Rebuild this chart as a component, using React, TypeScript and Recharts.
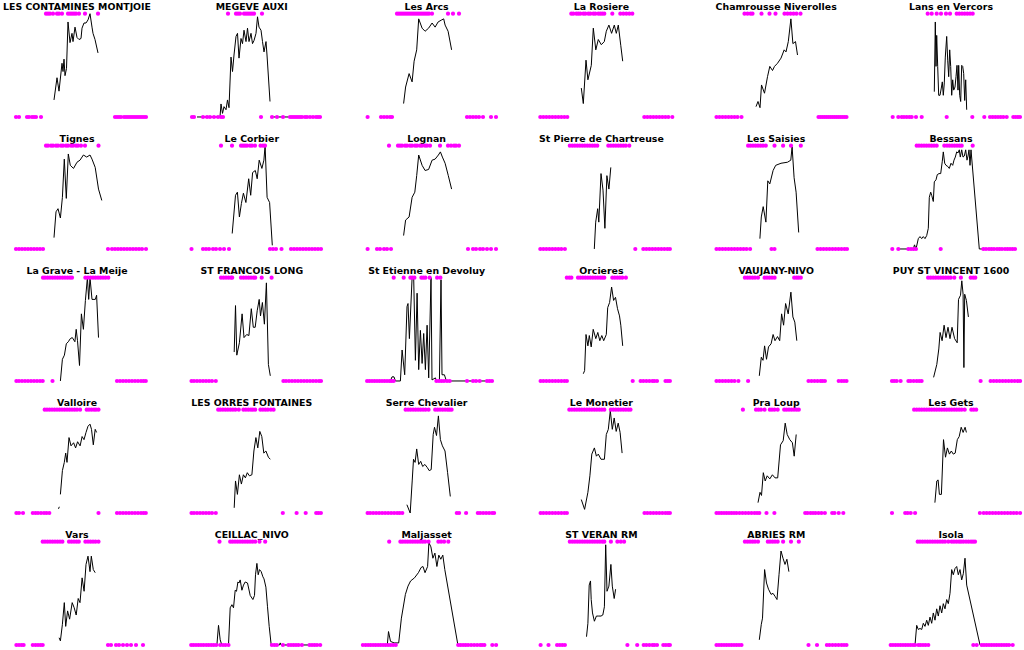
import React from 'react';
import { ComposedChart, Line, Scatter, XAxis, YAxis } from 'recharts';

type P = [number, number | null][];

// ---- Station names (row-major, 5 rows x 6 columns) ----
const titles = [
  'LES CONTAMINES MONTJOIE', 'MEGEVE AUXI', 'Les Arcs', 'La Rosiere', 'Chamrousse Niverolles', 'Lans en Vercors',
  'Tignes', 'Le Corbier', 'Lognan', 'St Pierre de Chartreuse', 'Les Saisies', 'Bessans',
  'La Grave - La Meije', 'ST FRANCOIS LONG', 'St Etienne en Devoluy', 'Orcieres', 'VAUJANY-NIVO', 'PUY ST VINCENT 1600',
  'Valloire', 'LES ORRES FONTAINES', 'Serre Chevalier', 'Le Monetier', 'Pra Loup', 'Les Gets',
  'Vars', 'CEILLAC_NIVO', 'Maljasset', 'ST VERAN RM', 'ABRIES RM', 'Isola',
];

// ---- per-station data: line = [time, normalised depth], top/bottom = times of snow / no-snow flags ----
const contaminesLine: P = [[38,.165],[41,.38],[43,.25],[46,.52],[47,.44],[48,.56],[49,.40],[50.5,.47],[52,.92],[54,.72],[56,.81],[57,.73],[59,.87],[61,.77],[63,.75],[65,.76],[66,.86],[68,.91],[70,.91],[72,.94],[74,1.0],[76,.87],[77,.81],[79,.75],[82,.62]];
const contaminesTop = [30,32,34,37,41,43,46,52,54,56,58,60,63,69,82];
const contaminesBottom = [0,3,11,13,16,18,20,25,99,101,103,105,108,110,112,114,116,118,120,122,124,126,128,130];

const megeveLine: P = [[6,0],[29,0],[30,.126],[31.5,.035],[33,.1],[35,.07],[36.5,.165],[38,.09],[40,.58],[41.5,.44],[43,.6],[45,.78],[46.5,.81],[48,.57],[50,.76],[51.5,.71],[53,.84],[55,.73],[56.5,.86],[58,.73],[60,.81],[61.5,.71],[63,.74],[65,.81],[66.5,.97],[68,.87],[70,.84],[71.5,.73],[73,.63],[75,.73],[76,.6],[79,.15],[80,null],[81,0],[129,0]];
const megeveTop = [37,45,47,49,53,55,57,59,61,63,71];
const megeveBottom = [1,3,12,16,19,23,27,30,32,70,81,86,92,99,101,103,105,107,109,111,114,116,119,122,125,127,129];

const arcsLine: P = [[37.6,.13],[39.6,.29],[43.1,.42],[46.1,.34],[48.1,.54],[50.7,.65],[52.7,.95],[56.1,.86],[59.1,.83],[62.6,.86],[66.1,.91],[69.1,.87],[72.1,.92],[75.7,.94],[77.7,.95],[79.1,.89],[82.1,.83],[85.6,.65]];
const arcsTop = [31,33,35,37,39,41,43,45,47,49,51,53,55,57,59,61,63,66,82,87,93];
const arcsBottom = [1.6,15,18,21,24,26,101,104,107,110,113,117,125,130];

const rosiereLine: P = [[41.3,.28],[43.3,.13],[46,.55],[47.9,.36],[51.3,.5],[53.3,.86],[55.8,.65],[58.3,.75],[61.3,.70],[64.3,.73],[66.3,.83],[68.9,.89],[71.6,.81],[74.3,.89],[76.3,.81],[78.3,.89],[80.8,.69],[82.7,.54]];
const rosiereTop = [31.3,33.3,36.3,38.3,40.3,43.3,45.3,48.3,50.3,53.3,55.3,58.3,60.3,62.3,64.3,72.3,80.3,83.3,86.3,89.3,92.3];
const rosiereBottom = [0.3,3.3,6.3,9.3,12.3,15.3,18.3,21.3,24.3,27.3,104.3,107.3,110.3,113.3,116.3,119.3,122.3,125.3,128.3,132.3];

const chamrousseLine: P = [[41,.1],[43,.15],[45,.09],[46.5,.31],[49.5,.23],[52.5,.39],[54.8,.49],[57.5,.45],[59.5,.49],[62.5,.52],[66,.57],[69.2,.65],[71,.63],[73.3,.73],[75.9,.95],[77.9,.71],[80.5,.73],[82.5,.6]];
const chamrousseTop = [29.5,32.5,35.5,37.5,46.5,54.5,60.5,69.5,72.5,75.5,78.5,81.5,85.5];
const chamrousseBottom = [1.5,4.5,7.5,10.5,13.5,16.5,19.5,22.5,26.5,103.5,105.5,107.5,109.5,111.5,113.5,115.5,117.5,119.5,121.5,123.5,125.5,127.5,129.5,131.5];

const lansLine: P = [[44.3,.245],[45.3,.92],[46,.49],[46.7,.79],[47.7,.49],[48.7,.21],[50,.21],[51.3,.28],[52.3,.34],[53.3,.21],[54.3,.33],[55.3,.58],[56.7,.78],[57.7,.55],[58.7,.39],[59.7,.65],[60.7,.49],[61.7,.21],[62.7,.36],[63.7,.26],[65,.29],[66,.39],[67,.5],[68,.26],[68.7,.5],[69.7,.21],[70.7,.15],[71.7,.5],[72.7,.49],[73.7,.42],[74.7,.16],[75.7,.36],[76.7,.07]];
const lansTop = [37.7,41.7,46.7,51,56,60,66.7,69.3,72,74.7,77.3,80,82.7];
const lansBottom = [2.7,8.3,11.7,14,16.7,19.3,21.7,26,31.7,56.7,82.3,94.3,100,102.7,105.3,108,110.7,113.3,116.7,123.3,125.7,128,130];

const tignesLine: P = [[38,.11],[40,.36],[42,.39],[44.4,.3],[46.4,.5],[48.3,.87],[50.3,.49],[52.3,.92],[54.3,.81],[57.5,.78],[61,.84],[64,.86],[67.4,.91],[70.7,.89],[74,.91],[76,.87],[79.2,.79],[82.5,.58],[85.8,.47]];
const tignesTop = [30,32,35,37,40,42,45,47,50,52,55,57,60,62,65,69,82.5];
const tignesBottom = [0,3,6,9,12,15,18,21,24,27,92,96,99,102,105,108,111,114,117,120,123,126,130];

const corbierLine: P = [[41.2,.15],[44.5,.52],[46.4,.55],[48.4,.31],[50.4,.44],[52.4,.54],[54.9,.45],[57.7,.68],[59.7,.52],[61.6,.74],[64.3,.76],[66.2,.68],[68.2,.86],[70.9,.78],[72.9,.86],[74.1,1.0],[76.1,.5],[78.6,.45],[81.3,.035]];
const corbierTop = [30,41,50,52,54,56,59,61,64,69.5,72,74];
const corbierBottom = [0.5,12,15,18,22,25,29,33,38,79,82,85,90.5,100,103,106,109,112,115,118,121,124,127,130];

const lognanLine: P = [[37.6,.13],[39.6,.28],[43.1,.31],[46.1,.5],[48.8,.55],[50.7,.71],[52.7,.91],[56.1,.81],[59.1,.76],[62.6,.77],[66.1,.86],[69.1,.87],[72.4,.91],[74.4,.94],[76.4,.89],[79.1,.83],[82.3,.71],[85.6,.58]];
const lognanTop = [23,32,34,36,39,41,44,46,49,51,54,56,59,61,64,74,82,85,88,90,93];
const lognanBottom = [1.6,11,14,18,21,25,102,107,110,114,117,121,125,130];

const chartreuseLine: P = [[54.3,0],[55.7,.26],[57.7,.39],[58.8,.26],[61,.73],[63,.57],[64.9,.2],[66.9,.71],[68.9,.58],[70.8,.79]];
const chartreuseTop = [29.8,32.3,34.8,37.3,39.8,42.3,44.8,47.3,49.8,52.3,54.8,57.3,68.3,70.8,73.3,75.8,78.3,80.8,83.3,85.8,89.3];
const chartreuseBottom = [0.3,3.3,6.3,9.3,12.3,15.3,18.3,21.3,24.9,95.3,103.3,106.3,109.3,112.3,115.3,118.3,121.3,124.3,127.3,129.9];

const saisiesLine: P = [[44.9,.1],[46.3,.31],[48.2,.41],[50.9,.26],[52.8,.66],[54.8,.63],[58.1,.76],[60.7,.81],[66,.83],[72.5,.84],[75.8,.86],[77.1,.99],[79.1,.69],[81.1,.55],[83.7,.16]];
const saisiesTop = [33.1,35.5,38,40.5,43,45.5,48,50.8,59.5,68.1,76,85.8];
const saisiesBottom = [1.5,4.5,7.5,10.5,13.5,16.5,19.5,22.5,25.5,28.5,31.5,35.1,56.5,59.5,102.5,105.5,108.5,111.5,114.5,117.5,120.5,123.5,126.5,129.5,132];

const bessansLine: P = [[8.3,0],[23.3,0],[24.5,.04],[26,0],[28.3,.1],[30,.12],[31.7,.1],[33.3,.12],[35,.1],[36.7,.13],[38.3,.2],[39.3,.5],[40.7,.55],[41.7,.52],[43.3,.46],[44.3,.65],[46,.67],[47.3,.72],[49,.73],[50.7,.73],[52.3,.85],[53.3,.94],[54.7,.83],[56,.81],[57.7,.8],[59.3,.78],[61,.83],[62.7,.81],[64,.86],[65.3,.89],[66.7,.94],[68,.93],[69.3,.96],[70.3,.89],[71.7,.96],[73,.89],[74.3,.9],[75.7,.96],[77,.86],[78,.9],[79,.96],[80,.81],[81,.96],[89.3,0],[125,0]];
const bessansTop = [26.7,29,31.5,34,36.5,39,41.5,44,46.7,54.3,57,59.5,62,64.5,67,69.5,71.7,82.7];
const bessansBottom = [2.3,8.3,18.3,21,23.5,26,50.7,93.3,96,99,101.5,104,107,109.5,112,115,117.5,120,122.5,125];

const graveLine: P = [[44.4,0],[46.4,.21],[48.4,.25],[50.3,.36],[52.3,.38],[54.3,.41],[56.3,.42],[58.9,.38],[60.2,.5],[61.5,.39],[63.5,.15],[65.4,.65],[67.4,.5],[69.4,.78],[71.4,1.0],[72.7,.79],[74,1.0],[76,.79],[79.3,.79],[80.6,.83],[82.5,.42]];
const graveTop = [27,29,31.5,34,36.5,39,41.5,44,46.5,49,51.5,54,56,69.4,72,74.5,77,79.5,82,84.5,87,89.5,92.3];
const graveBottom = [0.4,3,6,9,12,15,18,21,24,26.7,36.5,101,104,107,110,113,116,119,122,125,127.5,129.8];

const francoisLine: P = [[43.2,.28],[44.5,.73],[45.8,.25],[48.4,.37],[51.1,.65],[53,.42],[55.7,.45],[57.9,.44],[60.3,.7],[62.3,.52],[64.2,.52],[66.2,.68],[68.2,.79],[69.5,.63],[71.4,.76],[73.4,.55],[75.4,.95],[77.4,.16],[79.3,.05]];
const francoisTop = [30,32.5,35,37.5,40,41.2,50,52.5,55,57.5,60,62.5,64.2,70.7,80.6];
const francoisBottom = [0.5,3,6,9,12,15,18,21,24.8,92.4,95,98,101,104,107,110,113,116,119,122,125,128,130];

const devoluyLine: P = [[2.7,0],[24.4,0],[26,.04],[28,.04],[29.4,0],[34.4,0],[36.1,.3],[38.7,.06],[41,.72],[42,.75],[43.4,.41],[46.1,1.0],[47.7,1.0],[49.4,.2],[51.1,.85],[52.7,.11],[54.4,.49],[56.1,.17],[57.7,.46],[59.4,.11],[61.1,.54],[62.7,.03],[65,1.0],[66,.01],[69.4,.03],[70.5,0],[73.4,0],[75,.98],[76,.06],[78.4,.06],[80.4,0],[126,0]];
const devoluyTop = [27.7,37.7,44.4,46.4,48.4,55.4,57.4,59.4,63.7,71.1,74.4];
const devoluyBottom = [1.1,3.5,6,8.5,11,13.5,16,18.5,21,23.5,25.5,27.7,70.4,73,75.5,78,81,83.7,101,107,110,113.7,121,123.5,126];

const orcieresLine: P = [[43.3,.07],[44.6,.1],[46,.45],[47.9,.34],[49.3,.44],[51.2,.33],[53.2,.5],[55.8,.41],[57.8,.47],[59.8,.39],[61.8,.44],[63.7,.39],[66.3,.45],[67.7,.71],[69.6,.76],[71.6,.91],[73.6,.78],[75.5,.81],[77.5,.7],[79.5,.63],[80.8,.54],[82.7,.34]];
const orcieresTop = [26.8,29.3,31.4,38,40.3,42.8,45.3,47.8,50.3,52.8,55.3,57.8,60.3,62.3,64.3,72.3,74.8,77.3,79.8,82.3,85.9];
const orcieresBottom = [0.6,3.3,6.3,9.3,12.3,15.3,18.3,21.3,24.3,26.9,92.7,100.6,103.3,106.3,109.3,112.3,114.3,117,125.5,127.8,129.9];

const vaujanyLine: P = [[44.3,.05],[46.3,.23],[48,.2],[49.6,.34],[51.5,.21],[53.5,.33],[56.1,.36],[58.1,.45],[60,.39],[62.5,.43],[64.7,.39],[66.6,.65],[68.6,.54],[70.6,.75],[73.2,.65],[75.9,.86],[77.9,.62],[79.8,.57],[81.8,.39]];
const vaujanyTop = [29.9,32.5,35,37.5,40,43,49.6,52,54.5,57,59.6,79.2,81.5,83.5,85.8];
const vaujanyBottom = [1.5,4.5,7.5,10.5,13.5,16.5,19.5,23.4,33.1,93.5,96.5,99.5,102.5,105.5,107.5,109.9,123.7,126.5,129,131.5];

const puyLine: P = [[43.6,.035],[46.8,.16],[48.8,.31],[50.1,.47],[52.1,.39],[54.1,.54],[56,.42],[58,.52],[60,.41],[62,.52],[64.6,.41],[67.2,.37],[68.5,.79],[70.5,.83],[71.8,.97],[73.1,.84],[73.9,.13],[74.7,.84],[76.4,.78],[78.4,.62]];
const puyTop = [38.1,40.7,43.2,45.7,48.2,50.7,53.2,55.7,58.2,60.7,64.3,70.9,80.7,83.2,85.3];
const puyBottom = [2,4.2,6.7,10.6,18.4,20.7,23.7,26.7,29.2,31.6,90.6,100.6,103.7,106.7,109.7,112.7,115.7,118.7,121.7,124.7,127.7,130.1];

const valloireLine: P = [[42.5,.04],[43.3,.06],[43.8,null],[44.4,.18],[46.4,.41],[48.3,.49],[49.7,.58],[51,.49],[53,.73],[55,.65],[57.6,.68],[59.6,.63],[61.6,.69],[64.1,.65],[66.1,.74],[68,.71],[70,.78],[72,.84],[74,.86],[75.5,.81],[77.3,.66],[79.2,.81],[80.6,.78]];
const valloireTop = [28.7,31,33.5,36,38.5,41,43.5,46,48.5,51,53.5,56,58.5,61,64.1,70.7,73,75.5,78,80,82.5];
const valloireBottom = [0.4,3,7,16.8,19.5,22,25,28,30.5,33.3,82.5,101,104,107,110,113,116,119,122,125,127.5,129.8];

const orresLine: P = [[43.2,.05],[44.5,.31],[46.4,.18],[48.4,.37],[50.4,.28],[52.4,.37],[54.4,.34],[56.3,.39],[58.4,.36],[60.9,.37],[62.9,.6],[64.9,.73],[66.8,.63],[68.8,.79],[70.8,.74],[72.8,.58],[74.9,.6],[77.4,.54],[79.3,.52]];
const orresTop = [27.2,29.4,31.9,34.4,36.9,39.4,41.9,44.4,47.8,52.4,54.9,57.4,59.9,61.9,64.2,69.4,71.9,74.4,76.9,79.9,82.6];
const orresBottom = [0.5,3,6,9,12,15,18,21,24.8,91.8,105.6,114.7,125.2,127.4,129.9];

const serreLine: P = [[40.9,.08],[44.2,0],[46.2,.31],[47.5,.52],[49.1,.49],[50.7,.62],[52.7,.47],[54.7,.5],[56.7,.45],[58.9,.47],[61.3,.44],[63.2,.41],[65.2,.42],[67.2,.76],[68.5,.83],[70.5,.75],[72.4,.94],[74.4,.71],[76.4,.65],[79,.6],[81.6,.39],[84.3,.16]];
const serreTop = [39.6,42.1,44.6,47.1,49.6,52.1,54.6,57.1,59.6,62.6,69.2,71.6,74.1,76.6,79.1,81.6,83.6,85.6];
const serreBottom = [1.6,4.1,7.1,10.1,13.1,16.1,19.1,22.1,25.1,28.1,31.1,33.6,36.3,90.8,93.1,100.1,111.8,114.1,117.1,120.1,123.1,126.1,128.1];

const monetierLine: P = [[41.3,.13],[44.6,.035],[47.9,.2],[49.9,.36],[51.8,.57],[54.4,.63],[56.4,.55],[58.3,.57],[61,.52],[64.4,.52],[66.3,.76],[68.3,.81],[70.3,.99],[72.3,.81],[74.2,.92],[76.2,.79],[78.2,.87],[80.1,.78],[82.1,.58]];
const monetierTop = [29.3,31.8,34.3,36.8,39.3,41.8,44.3,46.8,49.3,51.8,54.3,56.8,59.3,61.8,64.3,70.9,73.3,75.8,78.3,80.8,83.3,85.8,88.3,90.5];
const monetierBottom = [0.6,3.3,6.3,9.3,12.3,15.3,18.3,21.3,24.3,26.9,104.5,107.3,110.3,113.3,116.3,119.3,122.3,125.3,127.8,129.9];

const praLoupLine: P = [[43,.1],[45,.2],[46.5,.17],[48.3,.39],[50.2,.31],[52.2,.36],[54.8,.33],[57.4,.37],[60,.34],[62.7,.34],[65.5,.66],[68.2,.7],[70.2,.87],[72.2,.76],[74.8,.71],[77.4,.68],[79.2,.55],[81.2,.76]];
const praLoupTop = [27.9,41,43.5,46,49.6,54.8,57,59.5,62.7,69.2,71.5,74,76.5,79,81.5,83.8];
const praLoupBottom = [1.5,4,6.5,9,11.5,14,16.5,19,21.5,24.5,27.5,30.5,33.5,36.5,39.5,42,44.3,51.5,59.4,90.2,92.5,95.5,98,100.5,103.5,106.5,109.9,117.2,119.5,123.7,128.3];

const getsLine: P = [[44.9,.1],[46.8,.31],[48.1,.32],[49.4,.18],[51.4,.18],[53.5,.71],[55.5,.54],[57.4,.63],[59.4,.57],[61.3,.6],[63.3,.57],[65.2,.58],[67.3,.71],[69.2,.74],[71.2,.83],[73.1,.78],[75.1,.83],[76.4,.78]];
const getsTop = [24.1,26.7,29.2,31.7,34.2,36.7,39.2,41.7,44.2,46.7,49.2,51.7,54.2,56.7,59.2,61.7,64.2,66.7,69.2,71.7,74.7,81.3,83.7,86.2];
const getsBottom = [2,15.2,17.7,20.7,25.1,89.9,93.7,96.7,99.7,102.7,105.7,108.7,111.7,114.7,117.7,120.7,123.7,126.7,130.1];

const varsLine: P = [[43.1,.07],[44.4,.04],[46.4,.2],[48.3,.41],[49.7,.18],[51.6,.33],[53.6,.25],[56.2,.41],[58.2,.36],[60.2,.29],[62.2,.45],[64,.41],[66.1,.65],[68.1,.52],[70,.78],[72,.86],[74,.71],[75.3,.86],[77.3,.73],[79.2,.7]];
const varsTop = [26.7,29,31.5,34,36.5,39,41.5,44,46.4,53,55.5,58,60.5,62.8,69.4,72,74.5,77,79.5,82.5];
const varsBottom = [0.4,3,5.5,7.6,16.8,19.5,22,24.5,26.7,92,95,100,103,107,111,115,120,127];

const ceillacLine: P = [[0.9,0],[25.9,0],[27.5,.19],[29.2,.05],[30.8,0],[37.5,0],[39.2,.36],[40.9,.39],[42.5,.36],[44.2,.53],[45.5,.52],[46.9,.61],[48,.6],[49.2,.63],[50.9,.53],[52.5,.58],[54.2,.61],[56.5,.6],[59.2,.48],[61.9,.44],[63.5,.48],[64.5,.68],[65.9,.79],[67.2,.68],[68.5,.73],[70.2,.71],[71.9,.66],[73,.64],[74.9,.56],[76.5,.37],[78.2,.18],[80.2,0],[88.5,0],[89.2,.02],[90,0],[129.2,0]];
const ceillacTop = [28.5,39.2,41.5,44,46.5,49,51.5,54,56.5,59,61.5,64.2,68.5,74.2];
const ceillacBottom = [0.2,2.5,5,7.5,10,12.5,15.2,17.7,20.2,22.7,25.2,29.2,32,34.5,37.5,80.9,83.4,85.9,91.9,97.5,100,102.5,105,107.5,110.9,118.5,121,123.5,126,129.2];

const maljassetLine: P = [[0.3,0],[21.3,0],[22.5,.13],[24.5,.035],[28.1,.02],[32.7,.02],[35.4,.26],[39.4,.49],[42,.57],[44.6,.62],[48.5,.65],[52.4,.7],[55.1,.75],[57,.76],[59,.7],[61.6,.76],[62.9,.99],[64.9,.95],[66.9,.84],[68.9,.89],[70.9,.76],[72.8,.87],[74.8,.83],[76.8,.87],[78.8,.73],[91.9,0],[118.4,0]];
const maljassetTop = [23.2,34.4,36.6,39.1,41.6,44.1,46.6,49.1,51.6,54.1,56.6,59.1,62.6,72.4,75.1,78.1,82.3];
const maljassetBottom = [-3.1,-0.4,2.1,4.6,7.1,9.6,12.1,14.6,17.1,19.6,22.1,24.6,27.1,29.8,92.2,94.6,97.1,99.6,102.1,105.1,108.1,111.1,114.1,116.1,118.4,126.3,130.1];

const veranLine: P = [[46.5,.08],[47.9,.21],[49.2,.58],[50.5,.62],[51.2,.44],[52.5,.31],[54.4,.23],[56.4,.28],[58.8,.28],[61,.28],[62.8,.29],[64.4,.37],[65.7,.97],[67,.52],[68.9,.57],[70.9,.78],[72.3,.57],[74.2,.45],[75.6,.54]];
const veranTop = [29.8,32.3,34.8,37.3,39.8,42.3,44.8,47.3,49.8,52.3,54.8,57.3,59.8,62.3,64.3,70.9,77.4,80.8,84.1];
const veranBottom = [0.6,8.5,17.1,19.8,22.3,24.9,87.4,97.2,103.7,106.3,109.3,112.3,114.3,117,123.3,125.8,128.3,129.9];

const abriesLine: P = [[44.3,.05],[46.3,.2],[47.5,.26],[49.6,.73],[51.5,.6],[53.5,.54],[56.1,.49],[58,.5],[60.1,.47],[62,.44],[64,.68],[66,.91],[68,.84],[70,.78],[71.9,.83],[73.9,.71]];
const abriesTop = [29.9,32.5,35,37.5,40,43,52.8,55,57.5,60,62.7,68.1,76,83.8];
const abriesBottom = [1.5,4,6.5,9,11.5,14,16.5,19,21.5,24,26.5,93.5,102,111.9,114.5,117.5,120.5,123.5,126.5,129,131.5];

const isolaLine: P = [[5,0],[25,0],[26.7,.19],[28.3,.15],[30,.16],[31.7,.15],[33.3,.21],[35,.18],[36.7,.24],[38.3,.19],[40,.27],[41.7,.21],[43.3,.31],[45,.24],[46.7,.35],[48.3,.28],[50,.38],[51.7,.31],[53.3,.4],[55,.35],[56.7,.44],[58.3,.4],[60,.5],[61.7,.73],[63.3,.68],[65,.74],[66.7,.76],[68.3,.68],[70,.73],[71.7,.63],[73.3,.69],[75,.84],[76.7,.58],[90,0],[122.7,0]];
const isolaTop = [27.7,30,32.5,35,37.5,40,42.5,45,47.5,50,52.5,55,58.3,61.7,64,66.5,69,71,73.3,76,78.5,81,83,85];
const isolaBottom = [0.7,3,5.5,8,10.5,13,15.5,18,20.5,23,25,28.3,30.5,33,35.5,38.3,83.3,86.7,91.7,94,96.5,99,101.5,104,106.5,109,111.5,114,116.5,119,122.7];

const lines: P[] = [
  contaminesLine, megeveLine, arcsLine, rosiereLine, chamrousseLine, lansLine,
  tignesLine, corbierLine, lognanLine, chartreuseLine, saisiesLine, bessansLine,
  graveLine, francoisLine, devoluyLine, orcieresLine, vaujanyLine, puyLine,
  valloireLine, orresLine, serreLine, monetierLine, praLoupLine, getsLine,
  varsLine, ceillacLine, maljassetLine, veranLine, abriesLine, isolaLine,
];
const tops: number[][] = [
  contaminesTop, megeveTop, arcsTop, rosiereTop, chamrousseTop, lansTop,
  tignesTop, corbierTop, lognanTop, chartreuseTop, saisiesTop, bessansTop,
  graveTop, francoisTop, devoluyTop, orcieresTop, vaujanyTop, puyTop,
  valloireTop, orresTop, serreTop, monetierTop, praLoupTop, getsTop,
  varsTop, ceillacTop, maljassetTop, veranTop, abriesTop, isolaTop,
];
const bottoms: number[][] = [
  contaminesBottom, megeveBottom, arcsBottom, rosiereBottom, chamrousseBottom, lansBottom,
  tignesBottom, corbierBottom, lognanBottom, chartreuseBottom, saisiesBottom, bessansBottom,
  graveBottom, francoisBottom, devoluyBottom, orcieresBottom, vaujanyBottom, puyBottom,
  valloireBottom, orresBottom, serreBottom, monetierBottom, praLoupBottom, getsBottom,
  varsBottom, ceillacBottom, maljassetBottom, veranBottom, abriesBottom, isolaBottom,
];

const COLS = 6;
const COL_PITCH = 174.8;
const FIRST_CENTER = 77;
const ROW_PITCH = 132;
const PW = 150;
const PH = 120;

const Dot = (props: any) => {
  const { cx, cy } = props;
  if (cx == null || cy == null) return null;
  return <circle cx={cx} cy={cy} r={2.1} fill="#ff00ff" />;
};

function Panel({ idx }: { idx: number }) {
  const row = Math.floor(idx / COLS);
  const col = idx % COLS;
  const center = FIRST_CENTER + col * COL_PITCH;
  const lineData = lines[idx].map(([t, v]) => ({ t, v }));
  const flagData = [
    ...tops[idx].map((t) => ({ t, v: 1 })),
    ...bottoms[idx].map((t) => ({ t, v: 0 })),
  ];
  return (
    <>
      <div
        style={{
          position: 'absolute',
          left: center - 100,
          width: 200,
          top: row * ROW_PITCH + 0.8,
          textAlign: 'center',
          fontFamily: '"DejaVu Sans", sans-serif',
          fontWeight: 'bold',
          fontSize: 9.4,
          lineHeight: '12px',
          color: '#000',
          whiteSpace: 'nowrap',
        }}
      >
        {titles[idx]}
      </div>
      <div style={{ position: 'absolute', left: center - 75, top: row * ROW_PITCH + 4, width: PW, height: PH }}>
        <ComposedChart width={PW} height={PH} margin={{ top: 0, right: 0, bottom: 0, left: 0 }}>
          <XAxis hide type="number" dataKey="t" domain={[-14, 136]} allowDataOverflow />
          <YAxis hide type="number" dataKey="v" domain={[-0.068, 1.094]} allowDataOverflow />
          <Scatter data={flagData} fill="#ff00ff" shape={Dot} isAnimationActive={false} />
          <Line
            data={lineData}
            dataKey="v"
            type="linear"
            stroke="#000"
            strokeWidth={1}
            dot={false}
            activeDot={false}
            connectNulls={false}
            isAnimationActive={false}
          />
        </ComposedChart>
      </div>
    </>
  );
}

export default function App() {
  return (
    <div style={{ position: 'absolute', left: 0, top: 0, width: 1024, height: 650, background: '#fff', overflow: 'hidden' }}>
      {titles.map((_, i) => (
        <Panel key={i} idx={i} />
      ))}
    </div>
  );
}
